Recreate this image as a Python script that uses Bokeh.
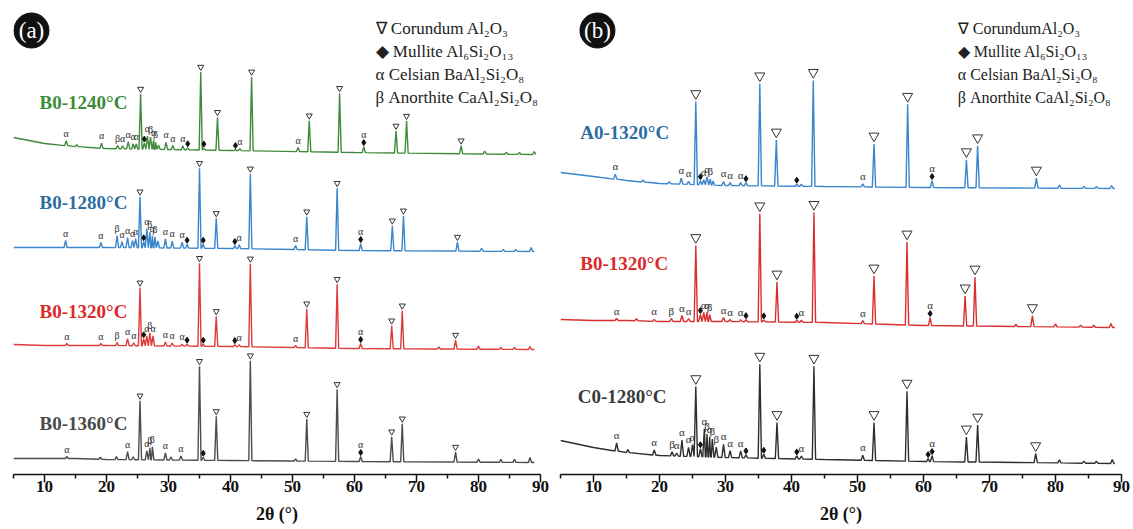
import numpy as np
from bokeh.plotting import figure
from bokeh.layouts import row
from bokeh.models import FixedTicker, Label, Range1d
from bokeh.core.properties import value
from bokeh.embed import file_html
from bokeh.resources import INLINE

# ---------------- data (2theta in degrees, intensity in a.u.) ----------------
x_ticks = [10, 20, 30, 40, 50, 60, 70, 80, 90]
x_minor = [5, 15, 25, 35, 45, 55, 65, 75, 85]

# Panel (a)
a_base_x = [5, 10, 15, 20, 40, 60, 89]
a1240_base = [337, 331, 328, 326, 324, 322, 320]
a1280_base = [227, 227, 227, 227, 226, 224, 223]
a1320_base = [130, 129, 129, 129, 128, 126, 125]
a1360_base = [16, 16, 16, 15, 14, 13, 12]

a1240_pos = [13.5, 15.2, 19.2, 21.8, 22.6, 23.5, 24.3, 24.8, 25.5, 26.1, 26.6, 27.1, 27.6, 27.9, 28.4,
             29.6, 30.7, 32.3, 33.1, 35.2, 35.7, 37.9, 40.8, 41.5, 43.4, 50.9, 52.7, 57.6, 61.5,
             66.7, 68.4, 77.2, 81.0, 84.5, 86.6, 89.0]
a1240_int = [5, 2, 5, 3, 3, 7, 5, 5, 55, 6, 13, 12, 9, 7, 4,
             7, 4, 4, 2, 78, 2, 33, 1, 2, 74, 4, 31, 59, 6,
             22, 32, 8, 3, 2, 2, 3]
a1240_lab = ["α", "", "α", "β", "α", "α", "α", "α", "∇", "◆", "α", "β", "α", "β", "",
             "α", "α", "α", "◆", "∇", "◆", "∇", "◆", "α", "∇", "α", "∇", "∇", "α◆",
             "∇", "∇", "∇", "", "", "", ""]

a1280_pos = [13.4, 19.1, 21.7, 22.5, 23.4, 24.2, 24.7, 25.4, 26.0, 26.5, 27.0, 27.4, 27.8, 28.3,
             29.5, 30.6, 32.2, 33.0, 35.0, 35.6, 37.7, 40.7, 41.4, 43.2, 50.5, 52.3, 57.2, 61.0,
             66.1, 67.9, 76.6, 80.5, 84.0, 86.0, 88.5]
a1280_int = [7, 5, 12, 6, 10, 7, 9, 51, 6, 19, 16, 12, 11, 7,
             9, 7, 6, 4, 80, 4, 30, 3, 4, 75, 4, 33, 62, 7,
             25, 35, 9, 3, 2, 2, 4]
a1280_lab = ["α", "α", "β", "α", "α", "α", "α", "∇", "◆", "α", "β", "α", "β", "",
             "α", "α", "α", "◆", "∇", "◆", "∇", "◆", "α", "∇", "α", "∇", "∇", "α◆",
             "∇", "∇", "∇", "", "", "", ""]

a1320_pos = [13.6, 19.1, 21.7, 23.4, 24.4, 25.4, 26.0, 26.5, 27.0, 27.5, 29.5, 30.6, 32.2, 33.0,
             35.0, 35.6, 37.7, 40.7, 41.4, 43.2, 50.5, 52.3, 57.2, 61.0, 66.0, 67.7, 73.6, 76.3,
             80.0, 83.6, 85.8, 88.3]
a1320_int = [2, 2, 3, 7, 3, 58, 7, 10, 13, 10, 4, 3, 2, 2,
             83, 2, 30, 2, 2, 83, 2, 39, 64, 5, 23, 38, 2, 9,
             3, 2, 2, 3]
a1320_lab = ["α", "α", "β", "α", "α", "∇", "◆", "α", "β", "α", "α", "α", "α", "◆",
             "∇", "◆", "∇", "◆", "α", "∇", "α", "∇", "∇", "α◆", "∇", "∇", "", "∇",
             "", "", "", ""]

a1360_pos = [13.6, 19.0, 21.6, 23.4, 24.3, 25.4, 26.5, 27.0, 27.4, 29.5, 30.4, 32.0, 35.0, 35.6,
             37.7, 43.2, 50.5, 52.3, 57.2, 61.0, 66.0, 67.7, 76.3, 80.0, 83.6, 85.8, 88.3]
a1360_int = [2, 2, 3, 8, 3, 59, 9, 12, 13, 7, 3, 4, 94, 3,
             44, 100, 2, 42, 72, 5, 25, 38, 10, 3, 3, 3, 5]
a1360_lab = ["α", "", "", "α", "", "∇", "α", "β", "β", "α", "", "α", "∇", "◆",
             "∇", "∇", "", "∇", "∇", "α◆", "∇", "∇", "∇", "", "", "", ""]

# Panel (b)
b_base_x = [5, 10, 15, 20, 30, 45, 60, 89]
bA0_base = [302, 298, 294, 291, 289, 288, 287, 286]
bB0_base = [155, 154, 154, 153, 153, 152, 149, 147]
bC0_base = [34, 27, 22, 19, 17, 15, 13, 11]

bA0_pos = [13.3, 17.5, 21.5, 23.3, 24.4, 25.5, 26.2, 26.7, 27.2, 27.7, 28.1, 29.7, 30.7, 32.3,
           33.1, 35.2, 37.7, 40.8, 41.5, 43.3, 50.8, 52.5, 57.6, 61.3, 66.5, 68.2, 77.1,
           80.6, 84.3, 86.2, 88.5]
bA0_int = [5, 2, 2, 6, 3, 83, 4, 5, 8, 6, 4, 4, 3, 3,
           3, 102, 46, 2, 2, 106, 3, 43, 83, 7, 28, 42, 10,
           3, 2, 2, 3]
bA0_lab = ["α", "", "", "α", "α", "∇", "◆", "α", "α", "β", "", "α", "α", "α",
           "◆", "∇", "∇", "◆", "", "∇", "α", "∇", "∇", "α◆", "∇", "∇", "∇",
           "", "", "", ""]

bB0_pos = [13.5, 16.5, 19.2, 21.8, 23.4, 24.4, 25.5, 26.2, 26.7, 27.2, 27.6, 29.7, 30.7, 32.3,
           33.1, 35.2, 35.8, 37.8, 40.8, 41.5, 43.4, 50.8, 52.5, 57.5, 61.0, 66.3, 67.8, 74.0,
           76.5, 80.0, 83.8, 85.8, 88.4]
bB0_int = [2, 2, 2, 3, 6, 3, 76, 7, 9, 9, 7, 4, 2, 2,
           2, 108, 2, 40, 2, 2, 110, 3, 48, 83, 8, 30, 49, 2,
           11, 3, 2, 2, 4]
bB0_lab = ["α", "", "α", "β", "α", "α", "∇", "◆", "α", "α", "β", "α", "α", "α",
           "◆", "∇", "◆", "∇", "◆", "α", "∇", "α", "∇", "∇", "α◆", "∇", "∇", "",
           "∇", "", "", "", ""]

bC0_pos = [13.5, 15.2, 19.2, 21.9, 22.6, 23.4, 24.4, 25.0, 25.5, 26.2, 26.8, 27.2, 27.6, 28.0,
           28.6, 29.7, 30.7, 32.3, 33.1, 35.2, 35.8, 37.8, 40.8, 41.5, 43.4, 50.8, 52.5, 57.5,
           60.7, 61.3, 66.5, 68.2, 77.0, 80.6, 84.3, 86.2, 88.6]
bC0_int = [8, 3, 5, 4, 3, 16, 9, 12, 70, 8, 28, 23, 20, 18,
           10, 13, 7, 7, 3, 94, 4, 36, 3, 3, 93, 5, 38, 70,
           3, 6, 25, 37, 9, 3, 2, 2, 4]
bC0_lab = ["α", "", "α", "β", "α", "α", "α", "α", "∇", "◆", "α", "β", "α", "β",
           "β", "α", "α", "α", "◆", "∇", "◆", "∇", "◆", "α", "∇", "α", "∇", "∇",
           "◆", "α◆", "∇", "∇", "∇", "", "", "", ""]

legend_a = ["∇ Corundum Al₂O₃", "◆ Mullite Al₆Si₂O₁₃", "α Celsian BaAl₂Si₂O₈", "β Anorthite CaAl₂Si₂O₈"]
legend_b = ["∇ CorundumAl₂O₃", "◆ Mullite Al₆Si₂O₁₃", "α Celsian BaAl₂Si₂O₈", "β Anorthite CaAl₂Si₂O₈"]

SERIF = "Liberation Serif"


def make_fig(width, left, right):
    p = figure(width=width, height=529, output_backend="svg", toolbar_location=None,
               x_range=Range1d(5, 90), y_range=Range1d(0, 474), y_axis_location=None,
               min_border_left=left, min_border_right=right, min_border_top=0,
               min_border_bottom=55)
    p.outline_line_color = None
    p.xgrid.visible = False
    p.ygrid.visible = False
    ax = p.xaxis[0]
    ax.ticker = FixedTicker(ticks=x_ticks, minor_ticks=x_minor)
    ax.axis_line_width = 1.5
    ax.axis_line_color = "#111111"
    ax.major_tick_line_width = 1.5
    ax.minor_tick_line_width = 1.5
    ax.major_tick_line_color = "#111111"
    ax.minor_tick_line_color = "#111111"
    ax.major_tick_in = 0
    ax.major_tick_out = 8
    ax.minor_tick_in = 0
    ax.minor_tick_out = 4
    ax.major_label_standoff = -2
    ax.major_label_text_font = SERIF
    ax.major_label_text_font_style = "bold"
    ax.major_label_text_font_size = "17px"
    ax.major_label_text_color = "#111111"
    ax.axis_label = "2θ (°)"
    ax.axis_label_standoff = 9
    ax.axis_label_text_font = SERIF
    ax.axis_label_text_font_style = "bold"
    ax.axis_label_text_font_size = "18px"
    ax.axis_label_text_color = "#111111"
    return p


def draw_pattern(p, base_x, base_y, pos, inten, labs, color, w, tri_size, tri_gap, greek_size):
    pos = np.asarray(pos, float)
    inten = np.asarray(inten, float)
    pb = np.interp(pos, base_x, base_y)
    xs, ys = [], []
    for bx, by in zip(base_x, base_y):
        if np.all(np.abs(pos - bx) > w):
            xs.append(bx)
            ys.append(by)
    for x, b, h in zip(pos, pb, inten):
        xs += [x - w, x, x + w]
        ys += [b, b + h, b]
    order = np.argsort(np.asarray(xs), kind="stable")
    xs = np.asarray(xs)[order]
    ys = np.asarray(ys)[order]
    p.line(xs, ys, line_color=color, line_width=1.4)

    tops = pb + inten
    tx, ty, dx, dy, gx, gy, gt = [], [], [], [], [], [], []
    for x, t, lab in zip(pos, tops, labs):
        if "∇" in lab:
            tx.append(x)
            ty.append(t + tri_gap)
        y = t + 2
        if "◆" in lab:
            dx.append(x)
            dy.append(t + 4)
            y = t + 7
        g = lab.replace("∇", "").replace("◆", "")
        if g:
            gx.append(x)
            gy.append(y)
            gt.append(g)
    if tx:
        p.scatter(tx, ty, marker="inverted_triangle", size=tri_size, fill_color="white",
                  line_color="#333333", line_width=1)
    if dx:
        p.scatter(dx, dy, marker="diamond", size=6, fill_color="#111111", line_color="#111111")
    if gx:
        p.text(gx, gy, text=gt, text_font=value(SERIF), text_font_size=greek_size,
               text_color="#333333", text_align="center", text_baseline="bottom")


def add_badge(p, x, y, txt):
    p.scatter([x], [y], marker="circle", size=35, fill_color="#111111", line_color="#111111")
    p.add_layout(Label(x=x, y=y, text=txt, text_font=SERIF, text_font_size="23px",
                       text_color="white", text_align="center", text_baseline="middle"))


def add_legend(p, x, ys, lines, size):
    for y, t in zip(ys, lines):
        p.add_layout(Label(x=x, y=y, text=t, text_font=SERIF, text_font_size=size,
                           text_color="#222222", text_align="left", text_baseline="middle"))


def add_name(p, x, y, txt, color):
    p.add_layout(Label(x=x, y=y, text=txt, text_font=SERIF, text_font_size="19px",
                       text_font_style="bold", text_color=color, text_align="left",
                       text_baseline="middle"))


# ---------------- panel (a) ----------------
pa = make_fig(553, 13, 13)
draw_pattern(pa, a_base_x, a1240_base, a1240_pos, a1240_int, a1240_lab, "#3f8b3c", 0.25, 6, 5, "10px")
draw_pattern(pa, a_base_x, a1280_base, a1280_pos, a1280_int, a1280_lab, "#3a86cc", 0.25, 6, 5, "10px")
draw_pattern(pa, a_base_x, a1320_base, a1320_pos, a1320_int, a1320_lab, "#de3b3b", 0.25, 6, 5, "10px")
draw_pattern(pa, a_base_x, a1360_base, a1360_pos, a1360_int, a1360_lab, "#4d4d4d", 0.25, 6, 5, "10px")
add_name(pa, 9.2, 372, "B0-1240°C", "#3d8a38")
add_name(pa, 9.2, 272, "B0-1280°C", "#2d6d9e")
add_name(pa, 9.2, 163, "B0-1320°C", "#db2a2a")
add_name(pa, 9.2, 51, "B0-1360°C", "#4a4a4a")
add_badge(pa, 7.9, 444, "(a)")
add_legend(pa, 63.4, [446, 423, 400, 377], legend_a, "17px")

# ---------------- panel (b) ----------------
pb_ = make_fig(580, 7, 12)
draw_pattern(pb_, b_base_x, bA0_base, bA0_pos, bA0_int, bA0_lab, "#3a86cc", 0.25, 10, 8, "11px")
draw_pattern(pb_, b_base_x, bB0_base, bB0_pos, bB0_int, bB0_lab, "#d92f2f", 0.25, 10, 8, "11px")
draw_pattern(pb_, b_base_x, bC0_base, bC0_pos, bC0_int, bC0_lab, "#2e2e2e", 0.25, 10, 8, "11px")
add_name(pb_, 8.0, 342, "A0-1320°C", "#2d6d9e")
add_name(pb_, 8.0, 211, "B0-1320°C", "#db2a2a")
add_name(pb_, 7.6, 78, "C0-1280°C", "#3a3a3a")
add_badge(pb_, 10.6, 444, "(b)")
add_legend(pb_, 65.2, [446, 423, 400, 377], legend_b, "16px")

layout = row(pa, pb_, spacing=0)
open("out.html", "w").write(file_html(layout, INLINE))
